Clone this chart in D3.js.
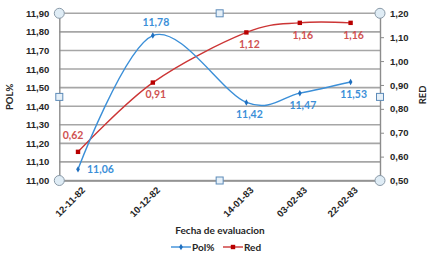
<!DOCTYPE html>
<html>
<head>
<meta charset="utf-8">
<script src="https://d3js.org/d3.v7.min.js"></script>
<style>
  html, body { margin: 0; padding: 0; background: #fff; }
  svg { display: block; font-family: Lato, "Open Sans", sans-serif; }
</style>
</head>
<body>
<div id="chart"></div>
<script>
// Datos del grafico
const fechas = ['12-11-82', '10-12-82', '14-01-83', '03-02-83', '22-02-83'];
const pol = [11.06, 11.78, 11.42, 11.47, 11.53];
const red = [0.62, 0.91, 1.12, 1.16, 1.16];
const polTicks = [11.0, 11.1, 11.2, 11.3, 11.4, 11.5, 11.6, 11.7, 11.8, 11.9];
const redTicks = [0.5, 0.6, 0.7, 0.8, 0.9, 1.0, 1.1, 1.2];
// posicion de las etiquetas de datos
const polLabelPos = ['right', 'above', 'below', 'below', 'below'];
const redLabelPos = ['above', 'below', 'below', 'below', 'below'];

const W = 431, H = 254;
const margin = { top: 13.3, right: 51, bottom: 73.5, left: 59.3 };
const w = W - margin.left - margin.right;
const h = H - margin.top - margin.bottom;

const BLUE = '#3b8fd8', RED = '#cc3535', RED_TXT = '#cf5252';
const GRID = '#a6a6a6', AXIS = '#8c8c8c';

const parse = d3.timeParse('%d-%m-%y');
const dates = fechas.map(parse);
const comma = f => v => d3.format(f)(v).replace('.', ',');

const root = d3.select('#chart').append('svg')
  .attr('width', W).attr('height', H);
const svg = root.append('g')
  .attr('transform', `translate(${margin.left},${margin.top})`);

const x = d3.scaleTime()
  .domain([new Date(1982, 10, 5), new Date(1983, 2, 5)])
  .range([0, w]);
const yL = d3.scaleLinear().domain([11.0, 11.9]).range([h, 0]);
const yR = d3.scaleLinear().domain([0.5, 1.2]).range([h, 0]);

// Gridlines (eje izquierdo)
svg.append('g')
  .selectAll('line')
  .data(polTicks)
  .join('line')
  .attr('x1', 0).attr('x2', w)
  .attr('y1', d => yL(d)).attr('y2', d => yL(d))
  .attr('stroke', GRID).attr('stroke-width', 1.6);

// Left axis
const axL = svg.append('g')
  .call(d3.axisLeft(yL).tickValues(polTicks).tickSize(0).tickPadding(10).tickFormat(comma('.2f')));
axL.select('.domain').attr('stroke', AXIS).attr('stroke-width', 1.4);
axL.selectAll('text').attr('font-size', 9.5).attr('font-weight', 'bold').attr('fill', '#262626');

// Right axis
const axR = svg.append('g')
  .attr('transform', `translate(${w},0)`)
  .call(d3.axisRight(yR).tickValues(redTicks).tickSize(4).tickPadding(6).tickFormat(comma('.2f')));
axR.select('.domain').attr('stroke', AXIS).attr('stroke-width', 1.4);
axR.selectAll('.tick line').attr('stroke', AXIS);
axR.selectAll('text').attr('font-size', 9.5).attr('font-weight', 'bold').attr('fill', '#262626');

// Bottom axis (fechas)
const axB = svg.append('g')
  .attr('transform', `translate(0,${h})`)
  .call(d3.axisBottom(x).tickValues(dates).tickSize(0).tickFormat((d, i) => fechas[i]));
axB.select('.domain').attr('stroke', AXIS).attr('stroke-width', 1.6);
axB.selectAll('text')
  .attr('font-size', 9.5).attr('font-weight', 'bold').attr('fill', '#262626')
  .attr('text-anchor', 'end')
  .attr('transform', 'translate(5,8) rotate(-45)')
  .attr('dy', '0.35em').attr('y', 0);

// Lines (suavizadas como en Excel)
const smooth = d3.curveCatmullRom.alpha(0);
const lineL = d3.line().x((d, i) => x(dates[i])).y(d => yL(d)).curve(smooth);
const lineR = d3.line().x((d, i) => x(dates[i])).y(d => yR(d)).curve(smooth);

svg.append('path').datum(red)
  .attr('d', lineR).attr('fill', 'none').attr('stroke', RED).attr('stroke-width', 1.4);
svg.append('path').datum(pol)
  .attr('d', lineL).attr('fill', 'none').attr('stroke', BLUE).attr('stroke-width', 1.4);

// Markers
svg.selectAll('.m-red').data(red).join('rect')
  .attr('class', 'm-red')
  .attr('x', (d, i) => x(dates[i]) - 2.2).attr('y', d => yR(d) - 2.2)
  .attr('width', 4.4).attr('height', 4.4).attr('fill', '#b80000');
svg.selectAll('.m-pol').data(pol).join('path')
  .attr('class', 'm-pol')
  .attr('transform', (d, i) => `translate(${x(dates[i])},${yL(d)})`)
  .attr('d', d3.symbol(d3.symbolDiamond, 12)).attr('fill', '#1f6fbf');

// Data labels
function label(pos, px, py) {
  if (pos === 'right') return { x: px + 9, y: py, anchor: 'start' };
  if (pos === 'above') return { x: px + 3, y: py - 13, anchor: 'middle' };
  return { x: px + 3, y: py + 12, anchor: 'middle' };
}
svg.selectAll('.l-pol').data(pol).join('text')
  .attr('class', 'l-pol')
  .each(function(d, i) {
    const p = label(polLabelPos[i], x(dates[i]), yL(d));
    d3.select(this).attr('x', p.x).attr('y', p.y).attr('text-anchor', p.anchor);
  })
  .attr('dy', '0.35em').attr('font-size', 10.5).attr('font-weight', 'bold').attr('fill', BLUE)
  .text(comma('.2f'));
svg.selectAll('.l-red').data(red).join('text')
  .attr('class', 'l-red')
  .each(function(d, i) {
    const p = label(redLabelPos[i], x(dates[i]), yR(d));
    d3.select(this).attr('x', p.x - (i === 0 ? 8 : 0)).attr('y', p.y - (i === 0 ? 4 : 0)).attr('text-anchor', p.anchor);
  })
  .attr('dy', '0.35em').attr('font-size', 10.5).attr('font-weight', 'bold').attr('fill', RED_TXT)
  .text(comma('.2f'));

// Selection handles (plot area)
const hx = [0, w / 2, w], hy = [0, h / 2, h];
const handles = [];
hx.forEach((a, i) => hy.forEach((b, j) => {
  if (i === 1 && j === 1) return;
  handles.push({ x: a, y: b, corner: i !== 1 && j !== 1 });
}));
svg.selectAll('.hc').data(handles.filter(d => d.corner)).join('circle')
  .attr('cx', d => d.x).attr('cy', d => d.y).attr('r', 5)
  .attr('fill', '#dfecf5').attr('stroke', '#8a9aa8').attr('stroke-width', 1);
svg.selectAll('.hs').data(handles.filter(d => !d.corner)).join('rect')
  .attr('x', d => d.x - 3.5).attr('y', d => d.y - 3.5).attr('width', 7).attr('height', 7)
  .attr('fill', '#e6f0f8').attr('stroke', '#5d8bb8').attr('stroke-width', 1);

// Axis titles
root.append('text')
  .attr('transform', `translate(10,${margin.top + h / 2}) rotate(-90)`)
  .attr('text-anchor', 'middle').attr('dy', '0.35em')
  .attr('font-size', 9.5).attr('font-weight', 'bold').attr('fill', '#262626')
  .text('POL%');
root.append('text')
  .attr('transform', `translate(423,${margin.top + h / 2 - 2}) rotate(-90)`)
  .attr('text-anchor', 'middle').attr('dy', '0.35em')
  .attr('font-size', 9.5).attr('font-weight', 'bold').attr('fill', '#262626')
  .text('RED');
root.append('text')
  .attr('x', 220).attr('y', 230).attr('dy', '0.35em')
  .attr('text-anchor', 'middle')
  .attr('font-size', 10).attr('font-weight', 'bold').attr('fill', '#262626')
  .text('Fecha de evaluacion');

// Legend
const legend = [
  { name: 'Pol%', color: BLUE, mark: '#1f6fbf', sq: false, x: 171 },
  { name: 'Red', color: RED, mark: '#b80000', sq: true, x: 223 }
];
const lg = root.append('g').attr('transform', 'translate(0,247)');
legend.forEach(s => {
  lg.append('line').attr('x1', s.x).attr('x2', s.x + 20).attr('y1', 0).attr('y2', 0)
    .attr('stroke', s.color).attr('stroke-width', 1.4);
  if (s.sq) {
    lg.append('rect').attr('x', s.x + 7.8).attr('y', -2.2).attr('width', 4.4).attr('height', 4.4).attr('fill', s.mark);
  } else {
    lg.append('path').attr('transform', `translate(${s.x + 10},0)`)
      .attr('d', d3.symbol(d3.symbolDiamond, 12)).attr('fill', s.mark);
  }
  lg.append('text').attr('x', s.x + 21).attr('y', 0).attr('dy', '0.35em')
    .attr('font-size', 10).attr('font-weight', 'bold').attr('fill', '#262626')
    .text(s.name);
});
</script>
</body>
</html>
